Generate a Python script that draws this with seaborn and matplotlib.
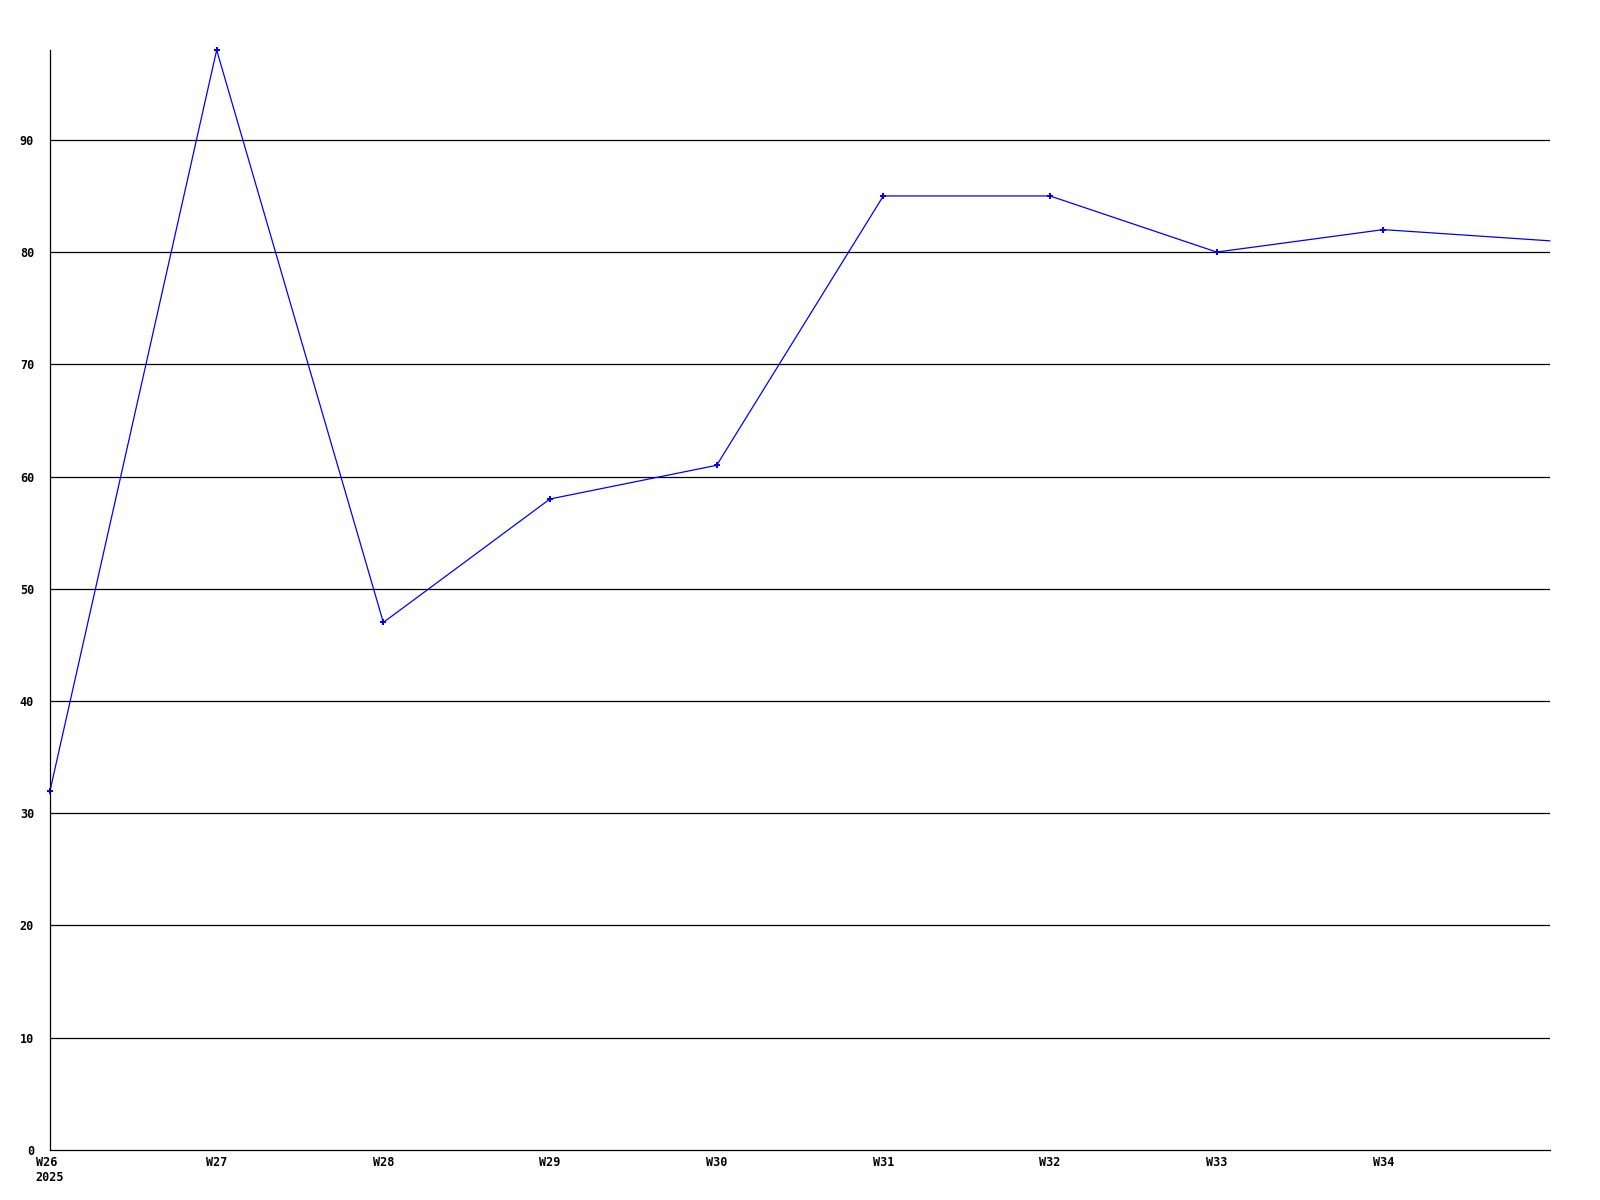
import pandas as pd
import seaborn as sns
import matplotlib.pyplot as plt


weeks = ['W26', 'W27', 'W28', 'W29', 'W30', 'W31', 'W32', 'W33', 'W34', 'W35']
values = [32, 98, 47, 58, 61, 85, 85, 80, 82, 81]
tick_labels = ['W26\n2025', 'W27', 'W28', 'W29', 'W30', 'W31', 'W32', 'W33', 'W34']
y_ticks = [0, 10, 20, 30, 40, 50, 60, 70, 80, 90]

color = '#0000ff'

sns.set_style('white')
plt.rcParams['font.family'] = ['DejaVu Sans Mono', 'DejaVu Sans']

df = pd.DataFrame({'pos': range(len(weeks)), 'week': weeks, 'value': values})

fig = plt.figure(figsize=(16, 12), dpi=100)
ax = fig.add_axes([0.03125, 0.0417, 0.9375, 0.9166])

sns.lineplot(data=df, x='pos', y='value', color=color, linewidth=0.9,
             marker='P', markersize=4, markeredgewidth=0, ax=ax, clip_on=False,
             markevery=list(range(len(weeks) - 1)))

ax.set_xlim(0, len(weeks) - 1)
ax.set_ylim(0, 98)
ax.set_yticks(y_ticks)
ax.set_yticklabels([str(v) for v in y_ticks], fontsize=8.5, fontweight='bold', color='black')
ax.set_xticks(range(len(tick_labels)))
ax.set_xticklabels(tick_labels, fontsize=8.5, fontweight='bold', color='black',
                   multialignment='left')
ax.tick_params(axis='both', length=0)
ax.tick_params(axis='y', pad=11.5)
ax.tick_params(axis='x', pad=4.5)

for y in y_ticks[1:]:
    ax.axhline(y, color='black', linewidth=0.9, zorder=0)

sns.despine(ax=ax, top=True, right=True)
ax.spines['left'].set_color('black')
ax.spines['bottom'].set_color('black')
ax.spines['left'].set_linewidth(0.9)
ax.spines['bottom'].set_linewidth(0.9)

ax.set_xlabel('')
ax.set_ylabel('')

fig.savefig('out.png', dpi=100, facecolor='white')
